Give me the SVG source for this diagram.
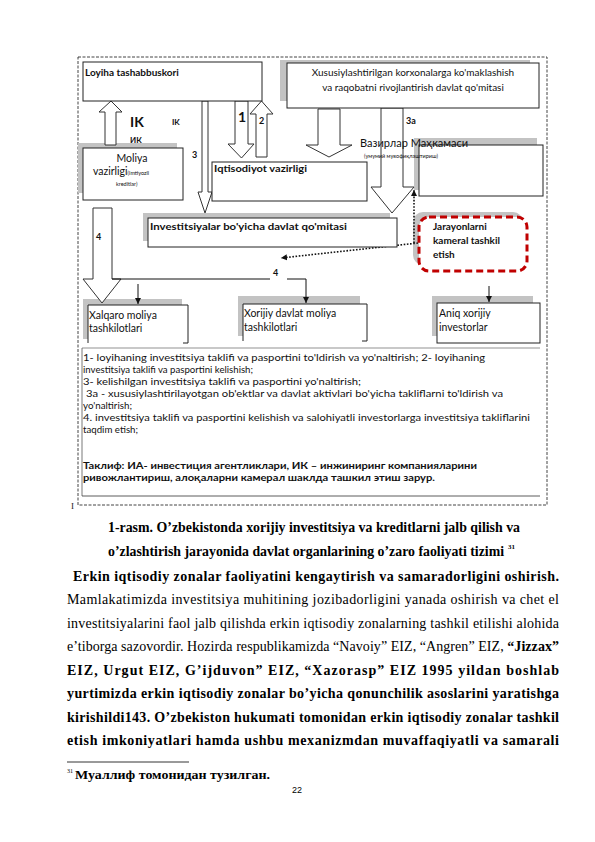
<svg xmlns="http://www.w3.org/2000/svg" width="595" height="842" viewBox="0 0 595 842">
<style>
.d{font-family:Lato,"Noto Sans","DejaVu Sans",sans-serif;fill:#111}
.b{font-weight:bold}
.box{fill:#fff;stroke:#222;stroke-width:1}
.sh{fill:#c3c3c3}
.blk{fill:#fff;stroke:#333;stroke-width:1}
.ln{fill:none;stroke:#111;stroke-width:1}
.dot{fill:none;stroke:#111;stroke-width:1.6;stroke-dasharray:1.6,1.6}
.s{font-family:"Liberation Serif","Times New Roman",serif;fill:#000;font-size:14px}
</style>
<defs>
<marker id="ah" markerWidth="8" markerHeight="8" refX="6" refY="4" orient="auto" markerUnits="userSpaceOnUse">
<path d="M0,1 L6,4 L0,7 Z" fill="#111"/>
</marker>
<marker id="ahd" markerWidth="8" markerHeight="8" refX="6" refY="4" orient="auto" markerUnits="userSpaceOnUse">
<path d="M0,1 L6,4 L0,7 Z" fill="#111"/>
</marker>
</defs>
<rect width="595" height="842" fill="#fff"/>

<!-- outer dashed frame -->
<rect x="78" y="57" width="469" height="448" fill="none" stroke="#444" stroke-width="1" stroke-dasharray="3,1.5"/>
<text x="71" y="509" font-family="Liberation Serif,serif" font-size="9" fill="#222">I</text>

<!-- shadows -->
<rect class="sh" x="280" y="60" width="250" height="41"/>
<rect class="sh" x="78" y="143" width="99" height="50"/>
<rect class="sh" x="414" y="138" width="123" height="52"/>
<rect class="sh" x="143" y="213" width="247" height="28"/>
<rect class="sh" x="413" y="212" width="110" height="53" rx="10"/>
<rect class="sh" x="83" y="299" width="99" height="40"/>
<rect class="sh" x="238" y="296" width="122" height="40"/>
<rect class="sh" x="432" y="296" width="101" height="40"/>

<g id="connectors">
<!-- block arrows -->
<polygon class="blk" points="105,145 105,112 99,112 111,101 122,112 116,112 116,145"/>
<polygon class="blk" points="235,101 248,101 248,144 254,144 241.5,158 228,144 235,144"/>
<polygon class="blk" points="256,157 256,114 250,114 261.5,101 273,114 267,114 267,157"/>
<polygon class="blk" points="202,101 208,101 208,192 212,192 205,213 198,192 202,192"/>
<polygon class="blk" points="318,109 340,109 340,145 352,145 329,157 306,145 318,145"/>
<polygon class="blk" points="381,108 403,108 403,187 414,187 392,213 371,187 381,187"/>
<polygon class="blk" points="93,208 112,208 112,279 121,279 102,303 83,279 93,279"/>
<!-- thin lines -->
<line class="ln" x1="112" y1="279" x2="270" y2="279"/>
<path class="ln" d="M287,279 H306 V303" marker-end="url(#ah)"/>
<line class="ln" x1="138" y1="284" x2="138" y2="304" marker-end="url(#ah)"/>
<line class="ln" x1="489" y1="286" x2="489" y2="302" marker-end="url(#ah)"/>
<!-- dotted -->
<line class="dot" x1="414" y1="243" x2="414" y2="190" marker-end="url(#ahd)"/>
<line class="dot" x1="418" y1="243" x2="281" y2="258" marker-end="url(#ahd)"/>
<!-- labels -->
<text class="d b" x="130" y="127" font-size="14">IK</text>
<text class="d b" x="172" y="125" font-size="8">IK</text>
<text class="d b" x="130" y="143" font-size="8">ИК</text>
<text class="d b" x="192" y="158" font-size="9">3</text>
<text class="d b" x="238" y="122" font-size="14">1</text>
<text class="d b" x="259" y="124" font-size="9">2</text>
<text class="d b" x="406" y="108" font-size="9">3a</text>
<text class="d b" x="406" y="124" font-size="9">3a</text>
<text class="d b" x="96" y="240" font-size="9">4</text>
<text class="d b" x="273" y="276" font-size="9">4</text>
</g>

<g id="loyiha">
<rect class="box" x="83" y="62" width="179" height="39"/>
<text class="d b" x="85" y="76" font-size="10">Loyiha tashabbuskori</text>
</g>

<g id="xususiy">
<rect class="box" x="287" y="63" width="252" height="45"/>
<text class="d" x="413" y="76" font-size="10" text-anchor="middle">Xususiylashtirilgan korxonalarga ko'maklashish</text>
<text class="d" x="413" y="91" font-size="10" text-anchor="middle">va raqobatni rivojlantirish davlat qo'mitasi</text>
</g>

<g id="moliya">
<rect class="box" x="83" y="148" width="100" height="52"/>
<text class="d" x="132" y="162" font-size="10.5" text-anchor="middle">Moliya</text>
<text class="d" x="93" y="175" font-size="10.5">vazirligi<tspan font-size="5.5">(imtiyozli</tspan></text>
<text class="d" x="116" y="186" font-size="5.5">kreditlar)</text>
</g>

<g id="iqtisodiyot">
<rect class="box" x="212" y="162" width="155" height="39"/>
<text class="d b" x="214" y="172" font-size="9.5" textLength="93" lengthAdjust="spacingAndGlyphs">Iqtisodiyot vazirligi</text>
</g>

<g id="vazirlar">
<rect class="box" x="419" y="145" width="124" height="51"/>
<text class="d" x="360" y="147" font-size="11">Вазирлар Маҳкамаси</text>
<text class="d" x="364" y="158" font-size="5.5">(умумий мувофиқлаштириш)</text>
</g>

<g id="investitsiyalar">
<rect class="box" x="148" y="218" width="249" height="29"/>
<text class="d b" x="150" y="230" font-size="9.5" textLength="197" lengthAdjust="spacingAndGlyphs">Investitsiyalar bo'yicha davlat qo'mitasi</text>
</g>

<g id="jarayonlar">
<rect x="419" y="217" width="108" height="54" rx="10" fill="#fff" stroke="#c00000" stroke-width="3" stroke-dasharray="7,4"/>
<text class="d b" x="433" y="230" font-size="10">Jarayonlarni</text>
<text class="d b" x="433" y="244" font-size="10">kameral tashkil</text>
<text class="d b" x="433" y="258" font-size="10">etish</text>
</g>

<g id="xalqaro">
<path d="M88,343 V305 H188 V343 H183" fill="#fff" stroke="#222" stroke-width="1"/>
<text class="d" x="89" y="319" font-size="10.5">Xalqaro moliya</text>
<text class="d" x="89" y="332" font-size="10.5">tashkilotlari</text>
</g>

<g id="xorijiy">
<path d="M243,341 V304 H367 V341 H362" fill="#fff" stroke="#222" stroke-width="1"/>
<text class="d" x="244" y="317" font-size="10.5">Xorijiy davlat moliya</text>
<text class="d" x="244" y="331" font-size="10.5">tashkilotlari</text>
</g>

<g id="aniq">
<rect class="box" x="437" y="303" width="103" height="40"/>
<text class="d" x="439" y="317" font-size="10.5">Aniq xorijiy</text>
<text class="d" x="439" y="331" font-size="10.5">investorlar</text>
</g>

<g id="izoh">
<line x1="82" y1="348" x2="540" y2="348" stroke="#c8c8c8" stroke-width="2"/>
<line x1="82" y1="348" x2="82" y2="496" stroke="#555" stroke-width="0.8"/>
<line x1="82" y1="496" x2="540" y2="496" stroke="#333" stroke-width="0.8"/>
<g class="d" font-size="9.5">
<text x="83" y="361" textLength="402" lengthAdjust="spacingAndGlyphs">1- loyihaning investitsiya taklifi va pasportini to'ldirish va yo'naltirish; 2- loyihaning</text>
<text x="83" y="373" textLength="170" lengthAdjust="spacingAndGlyphs">investitsiya taklifi va pasportini kelishish;</text>
<text x="83" y="385" textLength="278" lengthAdjust="spacingAndGlyphs">3-  kelishilgan investitsiya taklifi va pasportini yo'naltirish;</text>
<text x="86" y="397" textLength="417" lengthAdjust="spacingAndGlyphs">3a - xususiylashtirilayotgan ob'ektlar va davlat aktivlari bo'yicha takliflarni to'ldirish va</text>
<text x="83" y="409" textLength="49" lengthAdjust="spacingAndGlyphs">yo'naltirish;</text>
<text x="83" y="421" textLength="447" lengthAdjust="spacingAndGlyphs">4. investitsiya taklifi va pasportini kelishish va salohiyatli investorlarga investitsiya takliflarini</text>
<text x="83" y="433" textLength="55" lengthAdjust="spacingAndGlyphs">taqdim etish;</text>
<text class="b" x="83" y="469" textLength="394" lengthAdjust="spacingAndGlyphs">Таклиф: ИА- инвестиция агентликлари, ИК – инжиниринг компанияларини</text>
<text class="b" x="83" y="481" textLength="352" lengthAdjust="spacingAndGlyphs">ривожлантириш, алоқаларни камерал шаклда ташкил этиш зарур.</text>
</g>
</g>

<!-- body text -->
<g class="s">
<text x="108" y="532" font-weight="bold" textLength="412" lengthAdjust="spacingAndGlyphs">1-rasm. O’zbekistonda xorijiy investitsiya va kreditlarni jalb qilish va</text>
<text x="108" y="555.5" font-weight="bold" textLength="396" lengthAdjust="spacingAndGlyphs">o’zlashtirish jarayonida davlat organlarining o’zaro faoliyati tizimi</text>
<text x="508" y="549" font-weight="bold" font-size="7">31</text>
<text x="73" y="580.5" font-weight="bold" textLength="486" lengthAdjust="spacing">Erkin iqtisodiy zonalar faoliyatini kengaytirish va samaradorligini oshirish.</text>
<text x="67" y="604" textLength="492" lengthAdjust="spacing">Mamlakatimizda investitsiya muhitining jozibadorligini yanada oshirish va chet el</text>
<text x="67" y="627.5" textLength="492" lengthAdjust="spacing">investitsiyalarini faol jalb qilishda erkin iqtisodiy zonalarning tashkil etilishi alohida</text>
<text x="67" y="651" textLength="492" lengthAdjust="spacing">e’tiborga sazovordir. Hozirda respublikamizda “Navoiy” EIZ, “Angren” EIZ, <tspan font-weight="bold">“Jizzax”</tspan></text>
<text x="67" y="674.5" font-weight="bold" textLength="492" lengthAdjust="spacing">EIZ, Urgut EIZ, G’ijduvon” EIZ, “Xazorasp” EIZ 1995 yildan boshlab</text>
<text x="67" y="698" font-weight="bold" textLength="492" lengthAdjust="spacing">yurtimizda erkin iqtisodiy zonalar bo’yicha qonunchilik asoslarini yaratishga</text>
<text x="67" y="721.5" font-weight="bold" textLength="492" lengthAdjust="spacing">kirishildi143. O’zbekiston hukumati tomonidan erkin iqtisodiy zonalar tashkil</text>
<text x="67" y="745" font-weight="bold" textLength="492" lengthAdjust="spacing">etish imkoniyatlari hamda ushbu mexanizmdan muvaffaqiyatli va samarali</text>
</g>
<line x1="67" y1="762" x2="189" y2="762" stroke="#000" stroke-width="0.8"/>
<text x="67" y="773" font-family="Liberation Serif,serif" font-size="6">31</text>
<text x="75" y="779" font-family="Liberation Serif,serif" font-size="13" font-weight="bold" textLength="195" lengthAdjust="spacingAndGlyphs">Муаллиф томонидан тузилган.</text>
<text x="297" y="793" font-family="Liberation Sans,Arial,sans-serif" font-size="9" text-anchor="middle">22</text>
</svg>
